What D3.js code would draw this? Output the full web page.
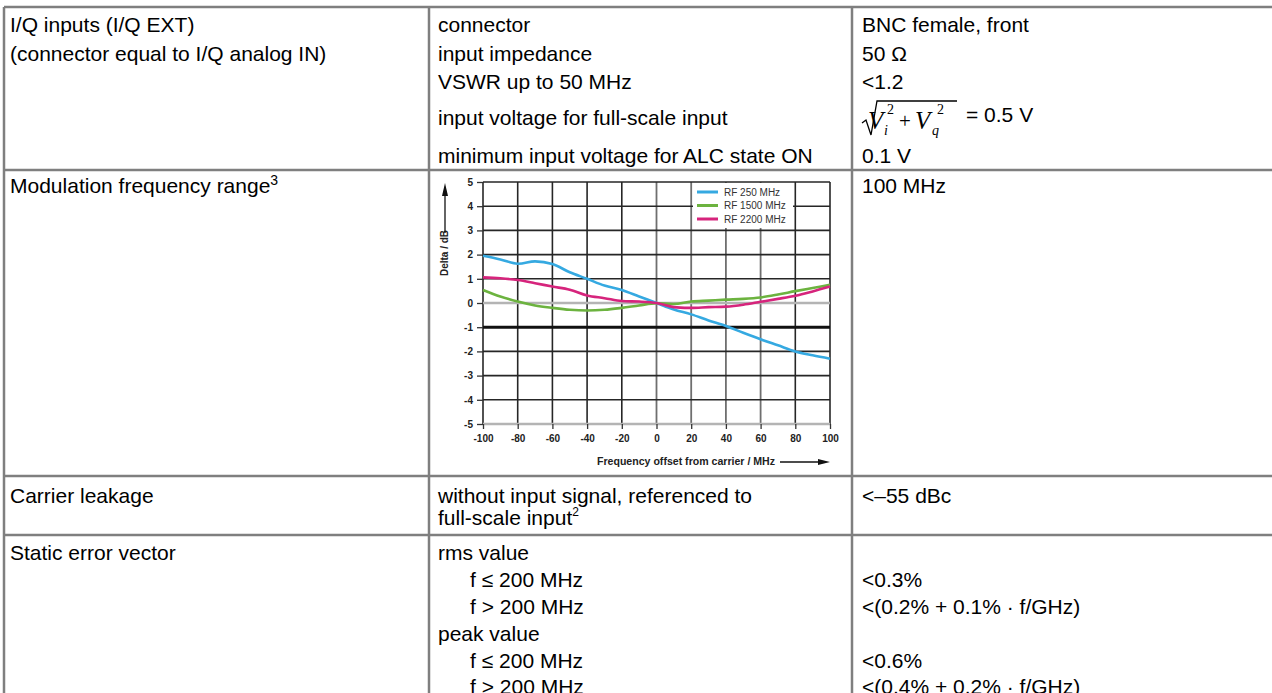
<!DOCTYPE html>
<html>
<head>
<meta charset="utf-8">
<script src="https://cdn.jsdelivr.net/npm/d3@7"></script>
<style>
  body { margin: 0; background: #fff; }
  svg { display: block; }
  .cell { font-family: "Liberation Sans", Arial, sans-serif; font-size: 21px; fill: #000; }
  .tick text { font-family: "Liberation Sans Narrow", "Liberation Sans", Arial, sans-serif; font-weight: bold; font-size: 10px; fill: #222; }
</style>
</head>
<body>
<div id="chart"></div>
<script>
// Chart values
var offsets = [-100, -90, -80, -70, -60, -50, -40, -30, -20, -10, 0, 10, 20, 30, 40, 50, 60, 70, 80, 90, 100];
var rf250 = [1.95, 1.8, 1.62, 1.72, 1.61, 1.27, 1.0, 0.72, 0.54, 0.27, 0.0, -0.27, -0.47, -0.72, -0.95, -1.23, -1.5, -1.75, -2.0, -2.16, -2.3];
var rf1500 = [0.54, 0.27, 0.06, -0.1, -0.2, -0.28, -0.31, -0.28, -0.2, -0.1, -0.01, -0.04, 0.06, 0.1, 0.14, 0.17, 0.23, 0.35, 0.49, 0.62, 0.75];
var rf2200 = [1.06, 1.02, 0.95, 0.82, 0.68, 0.55, 0.31, 0.2, 0.08, 0.06, 0.0, -0.17, -0.2, -0.17, -0.15, -0.07, 0.05, 0.17, 0.3, 0.48, 0.68];
var seriesNames = ["RF 250 MHz", "RF 1500 MHz", "RF 2200 MHz"];
var seriesColors = ["#35a9e1", "#6cb33f", "#d6247c"];
var xTicks = [-100, -80, -60, -40, -20, 0, 20, 40, 60, 80, 100];
var yTicks = [5, 4, 3, 2, 1, 0, -1, -2, -3, -4, -5];

// Table text
var row1Left = ["I/Q inputs (I/Q EXT)", "(connector equal to I/Q analog IN)"];
var row1Mid = ["connector", "input impedance", "VSWR up to 50 MHz", "input voltage for full-scale input", "minimum input voltage for ALC state ON"];
var row1Right = ["BNC female, front", "50 \u03A9", "<1.2", "", "0.1 V"];
var row4Mid = ["rms value", "f \u2264 200 MHz", "f > 200 MHz", "peak value", "f \u2264 200 MHz", "f > 200 MHz"];
var row4Right = ["", "<0.3%", "<(0.2% + 0.1% \u00B7 f/GHz)", "", "<0.6%", "<(0.4% + 0.2% \u00B7 f/GHz)"];

var svgWidth = 1272;
var svgHeight = 693;

var svg = d3.select("#chart")
  .append("svg")
  .attr("width", svgWidth)
  .attr("height", svgHeight);

svg.append("rect").attr("width", svgWidth).attr("height", svgHeight).attr("fill", "#fff");

// ---------- table grid ----------
var colX = [4, 429, 852];
var rowY = [7, 170, 476, 535];
var lineColor = "#7f7f7f";

var grid = svg.append("g").attr("stroke", lineColor).attr("stroke-width", 2.5);
rowY.forEach(function(y) {
  grid.append("line").attr("x1", colX[0]).attr("x2", svgWidth).attr("y1", y).attr("y2", y);
});
colX.forEach(function(x) {
  grid.append("line").attr("x1", x).attr("x2", x).attr("y1", rowY[0]).attr("y2", svgHeight);
});

function cellText(x, y, str) {
  return svg.append("text").attr("class", "cell").attr("x", x).attr("y", y).text(str);
}

var textX = [10, 438, 862];

// row 1
var row1Base = [32, 61, 89, 125, 163];
row1Left.forEach(function(s, i) { cellText(textX[0], row1Base[i], s); });
row1Mid.forEach(function(s, i) { cellText(textX[1], row1Base[i], s); });
row1Right.forEach(function(s, i) { if (s) cellText(textX[2], row1Base[i], s); });

// sqrt(Vi^2 + Vq^2) = 0.5 V
var f = svg.append("g");
f.append("path")
  .attr("d", "M862,123 L866,120 L871,135 L877,101 L957,101")
  .attr("fill", "none").attr("stroke", "#000").attr("stroke-width", 1.3);
function mathText(x, y, size, str, italic) {
  f.append("text").attr("x", x).attr("y", y)
    .attr("font-family", "'Liberation Serif', 'Times New Roman', serif")
    .attr("font-size", size).attr("font-style", italic ? "italic" : "normal")
    .text(str);
}
mathText(868, 129, 25, "V", true);
mathText(887, 114, 14, "2", false);
mathText(884, 135, 14, "i", true);
mathText(899, 128, 21, "+", false);
mathText(915, 129, 25, "V", true);
mathText(937, 114, 14, "2", false);
mathText(932, 135, 14, "q", true);
cellText(966, 122, "= 0.5 V");

// row 2
var t2 = cellText(textX[0], 193, "Modulation frequency range");
t2.append("tspan").attr("dy", -8).attr("font-size", 14).text("3");
cellText(textX[2], 193, "100 MHz");

// row 3
cellText(textX[0], 503, "Carrier leakage");
cellText(textX[1], 503, "without input signal, referenced to");
var t3 = cellText(textX[1], 525, "full-scale input");
t3.append("tspan").attr("dy", -9).attr("font-size", 12).text("2");
cellText(textX[2], 503, "<\u201355 dBc");

// row 4
var row4Base = [560, 587, 614, 641, 668, 694];
cellText(textX[0], row4Base[0], "Static error vector");
row4Mid.forEach(function(s, i) {
  var indent = (s.indexOf("f ") === 0) ? 32 : 0;
  cellText(textX[1] + indent, row4Base[i], s);
});
row4Right.forEach(function(s, i) { if (s) cellText(textX[2], row4Base[i], s); });

// ---------- chart ----------
var plot = { left: 483, right: 830, top: 182, bottom: 424 };

var xScale = d3.scaleLinear().domain([-100, 100]).range([plot.left, plot.right]);
var yScale = d3.scaleLinear().domain([-5, 5]).range([plot.bottom, plot.top]);

var chartGroup = svg.append("g");

// vertical grid
xTicks.forEach(function(v) {
  var light = v >= 0 && v <= 60;
  chartGroup.append("line")
    .attr("x1", xScale(v)).attr("x2", xScale(v))
    .attr("y1", plot.top).attr("y2", plot.bottom)
    .attr("stroke", light ? "#6f6f6f" : "#262626")
    .attr("stroke-width", light ? 1.8 : 1.6);
});
// horizontal grid
yTicks.forEach(function(v) {
  var stroke = "#262626", w = 1.6;
  if (v === 0 || v === -5) { stroke = "#b4b4b4"; w = 2.5; }
  if (v === -1) { stroke = "#111"; w = 3; }
  chartGroup.append("line")
    .attr("x1", plot.left).attr("x2", plot.right)
    .attr("y1", yScale(v)).attr("y2", yScale(v))
    .attr("stroke", stroke).attr("stroke-width", w);
});

// axes with ticks/labels only (plain hyphen for negatives, as in the print)
var bottomAxis = d3.axisBottom(xScale).tickValues(xTicks).tickSize(5).tickPadding(6)
  .tickFormat(function(d) { return String(d); });
var leftAxis = d3.axisLeft(yScale).tickValues(yTicks).tickSize(6).tickPadding(4)
  .tickFormat(function(d) { return String(d); });

var xAxisG = chartGroup.append("g")
  .attr("transform", `translate(0, ${plot.bottom})`)
  .call(bottomAxis);
var yAxisG = chartGroup.append("g")
  .attr("transform", `translate(${plot.left}, 0)`)
  .call(leftAxis);
[xAxisG, yAxisG].forEach(function(g) {
  g.select(".domain").remove();
  g.selectAll(".tick line").attr("stroke", "#333").attr("stroke-width", 1.3);
});

// legend box
var legend = chartGroup.append("g");
legend.append("rect")
  .attr("x", 693).attr("y", 183).attr("width", 100).attr("height", 45)
  .attr("fill", "#fff");

// series lines
var allSeries = [rf250, rf1500, rf2200];
var line = d3.line()
  .x(function(d, i) { return xScale(offsets[i]); })
  .y(function(d) { return yScale(d); })
  .curve(d3.curveCatmullRom);

allSeries.forEach(function(vals, k) {
  chartGroup.append("path")
    .datum(vals)
    .attr("d", line)
    .attr("fill", "none")
    .attr("stroke", seriesColors[k])
    .attr("stroke-width", 2.6);
});

seriesNames.forEach(function(name, k) {
  var ly = 192 + k * 13.5;
  legend.append("line")
    .attr("x1", 697).attr("x2", 718).attr("y1", ly).attr("y2", ly)
    .attr("stroke", seriesColors[k]).attr("stroke-width", 3);
  legend.append("text")
    .attr("x", 724).attr("y", ly + 3.5)
    .attr("font-family", "'Liberation Sans Narrow', 'Liberation Sans', sans-serif")
    .attr("font-size", 10).attr("fill", "#333")
    .text(name);
});

// axis titles + arrows
chartGroup.append("text")
  .attr("x", 597).attr("y", 465)
  .attr("font-family", "'Liberation Sans Narrow', 'Liberation Sans', sans-serif")
  .attr("font-size", 10).attr("font-weight", "bold").attr("fill", "#222")
  .attr("textLength", 178).attr("lengthAdjust", "spacingAndGlyphs")
  .text("Frequency offset from carrier / MHz");
chartGroup.append("line")
  .attr("x1", 780).attr("x2", 820).attr("y1", 462).attr("y2", 462)
  .attr("stroke", "#111").attr("stroke-width", 1.3);
chartGroup.append("path").attr("d", "M830,462 L818,459 L818,465 Z").attr("fill", "#111");

chartGroup.append("text")
  .attr("transform", "translate(448, 253) rotate(-90)")
  .attr("text-anchor", "middle")
  .attr("font-family", "'Liberation Sans Narrow', 'Liberation Sans', sans-serif")
  .attr("font-size", 10).attr("font-weight", "bold").attr("fill", "#222")
  .text("Delta / dB");
chartGroup.append("line")
  .attr("x1", 445).attr("x2", 445).attr("y1", 233).attr("y2", 192)
  .attr("stroke", "#111").attr("stroke-width", 1.3);
chartGroup.append("path").attr("d", "M445,183 L442,196 L448,196 Z").attr("fill", "#111");
</script>
</body>
</html>
